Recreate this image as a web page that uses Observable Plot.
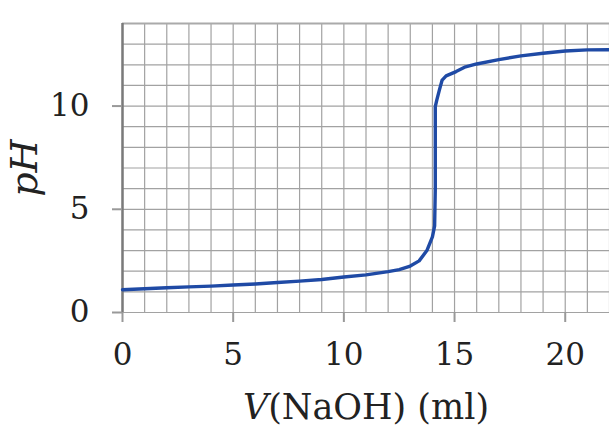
<!DOCTYPE html>
<html><head><meta charset="utf-8">
<script src="https://cdn.jsdelivr.net/npm/d3@7"></script>
<script src="https://cdn.jsdelivr.net/npm/@observablehq/plot@0.6"></script>
<style>
html,body{margin:0;padding:0;background:#fff;}
</style>
</head><body>
<div id="chart"></div>
<script>
const volume = [0, 1, 2, 3, 4, 5, 6, 7, 8, 9, 10, 11, 12, 12.5, 13, 13.4, 13.75, 14.0, 14.1, 14.13, 14.13, 14.2, 14.32, 14.44, 14.62, 15.07, 15.5, 16, 17, 18, 19, 20, 21, 22];
const pH = [1.10, 1.15, 1.2, 1.24, 1.28, 1.33, 1.38, 1.45, 1.52, 1.6, 1.72, 1.82, 1.98, 2.08, 2.25, 2.5, 3.0, 3.66, 4.2, 6.0, 9.97, 10.3, 10.8, 11.26, 11.46, 11.67, 11.9, 12.04, 12.25, 12.43, 12.56, 12.67, 12.72, 12.73];
const xTicks = [0, 5, 10, 15, 20];
const yTicks = [0, 5, 10];
const xGrid = d3.range(0, 23, 1);
const yGrid = d3.range(0, 15, 1);
const xLabel = "V(NaOH) (ml)";
const yLabel = "pH";

const data = volume.map((v, i) => ({v, pH: pH[i]}));

const chart = Plot.plot({
  width: 609,
  height: 429,
  marginLeft: 122,
  marginRight: 0,
  marginTop: 23,
  marginBottom: 117,
  style: {fontFamily: "DejaVu Serif", fontSize: "31px", color: "#222", background: "#fff"},
  x: {domain: [0, 22]},
  y: {domain: [0, 14]},
  marks: [
    Plot.gridX(xGrid, {stroke: "#a2a2a2", strokeOpacity: 1, strokeWidth: 1.2}),
    Plot.gridY(yGrid, {stroke: "#a2a2a2", strokeOpacity: 1, strokeWidth: 1.2}),
    Plot.ruleY([14], {stroke: "#aaa", strokeWidth: 2}),
    Plot.ruleX([0], {stroke: "#7a7a7a", strokeWidth: 2.5}),
    Plot.axisX(xTicks, {tickSize: 10, tickPadding: 20, stroke: "#999", strokeWidth: 2, fill: "#222", fontSize: 31,
      label: xLabel, labelAnchor: "center", labelArrow: "none", labelOffset: 106}),
    Plot.axisY(yTicks, {tickSize: 10, tickPadding: 23, stroke: "#999", strokeWidth: 2, fill: "#222", fontSize: 31,
      label: yLabel, labelAnchor: "center", labelArrow: "none", labelOffset: 112}),
    Plot.line(data, {x: "v", y: "pH", stroke: "#1f4aa5", strokeWidth: 3.4, curve: "linear"})
  ]
});
document.getElementById("chart").appendChild(chart);

// Style axis titles: italic V and italic pH
d3.select(chart).selectAll("text").each(function() {
  const t = d3.select(this);
  const s = t.text();
  if (s === xLabel) {
    t.text(null).attr("font-size", 35);
    t.append("tspan").attr("font-style", "italic").text("V");
    t.append("tspan").text("(NaOH) (ml)");
  } else if (s === yLabel) {
    t.attr("font-style", "italic").attr("font-size", 38);
  }
});
</script>
</body></html>
